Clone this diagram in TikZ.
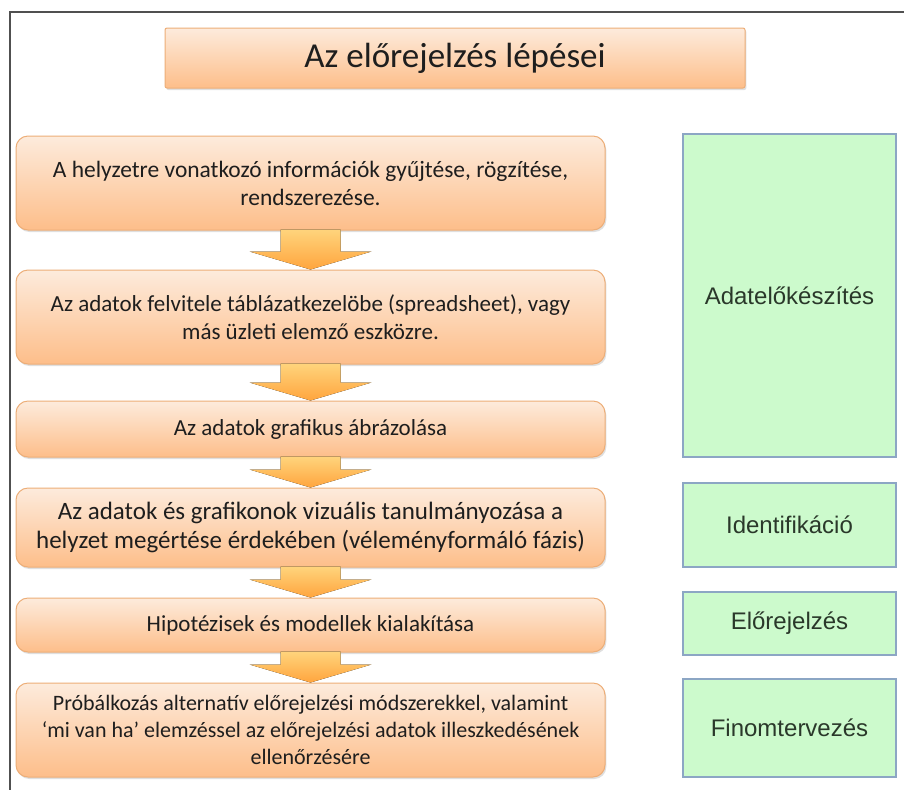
\documentclass[tikz,border=0pt]{standalone}
\usepackage{fontspec}
\setmainfont{Carlito}
\newfontfamily\sidefont{Liberation Sans}
\usetikzlibrary{calc,shadows}

\definecolor{stepTop}{HTML}{FDEBDC}
\definecolor{stepBot}{HTML}{FDBE8A}
\definecolor{stepLine}{HTML}{EDAE78}
\definecolor{stepText}{HTML}{1E1E1E}
\definecolor{arrowTop}{HTML}{FFD47C}
\definecolor{arrowBot}{HTML}{FFA53E}
\definecolor{phaseFill}{HTML}{CCFACC}
\definecolor{phaseLine}{HTML}{8CA6C4}
\definecolor{phaseText}{HTML}{2A382A}
\definecolor{frameLine}{HTML}{505050}

% down arrow between two consecutive steps
\newcommand\stepArrow[2]{%
  \fill[top color=arrowTop, bottom color=arrowBot]
    ($(#1.south)+(-30,-1)$) -- ($(#2.north)+(-30,-18)$) -- ($(#2.north)+(-61,-18)$)
    -- (#2.north) -- ($(#2.north)+(61,-18)$) -- ($(#2.north)+(30,-18)$)
    -- ($(#1.south)+(30,-1)$) -- cycle;}

\begin{document}
\begin{tikzpicture}[x=0.75pt,y=-0.75pt,
  stepbox/.style={draw=stepLine, line width=0.75pt, rounded corners=9pt,
    top color=stepTop, bottom color=stepBot, minimum width=441.75pt,
    align=center, inner sep=0pt, text=stepText,
    font=\fontsize{17.25}{21}\selectfont,
    drop shadow={shadow xshift=1pt, shadow yshift=-1.5pt, opacity=0.25}},
  titlebox/.style={draw=stepLine, line width=0.75pt, rounded corners=1.5pt,
    top color=stepTop, bottom color=stepBot, minimum width=435pt,
    minimum height=45pt, inner sep=0pt, text=stepText,
    font=\fontsize{26.25}{30}\selectfont,
    drop shadow={shadow xshift=1pt, shadow yshift=-1.5pt, opacity=0.25}},
  phasebox/.style={draw=phaseLine, line width=1.5pt, fill=phaseFill,
    minimum width=159.75pt, inner sep=0pt, text=phaseText,
    font=\sidefont\fontsize{18}{22}\selectfont}]

% page and frame
\fill[white] (0,0) rectangle (904,790);
\useasboundingbox (0,0) rectangle (904,790);
\draw[frameLine, line width=1.1pt] (904,12) -- (10,12) -- (10,790);

% title
\node[titlebox] (title) at (455,58) {Az előrejelzés lépései};

% steps
\node[stepbox, minimum height=70.5pt, font=\fontsize{17.6}{21}\selectfont] (s1) at (310.5,183)
  {A helyzetre vonatkozó információk gyűjtése, rögzítése,\\rendszerezése.};
\node[stepbox, minimum height=70.5pt] (s2) at (310.5,317)
  {Az adatok felvitele táblázatkezelöbe (spreadsheet), vagy\\más üzleti elemző eszközre.};
\node[stepbox, minimum height=42pt] (s3) at (310.5,429)
  {Az adatok grafikus ábrázolása};
\node[stepbox, minimum height=59.25pt, font=\fontsize{18.75}{22}\selectfont] (s4) at (310.5,527.5)
  {Az adatok és grafikonok vizuális tanulmányozása a\\helyzet megértése érdekében (véleményformáló fázis)};
\node[stepbox, minimum height=40.5pt] (s5) at (310.5,625)
  {Hipotézisek és modellek kialakítása};
\node[stepbox, minimum height=70.5pt, font=\fontsize{16.5}{20.25}\selectfont] (s6) at (310.5,730)
  {Próbálkozás alternatív előrejelzési módszerekkel, valamint\\‘mi van ha’ elemzéssel az előrejelzési adatok illeszkedésének\\ellenőrzésére};

% arrows
\stepArrow{s1}{s2}
\stepArrow{s2}{s3}
\stepArrow{s3}{s4}
\stepArrow{s4}{s5}
\stepArrow{s5}{s6}

% phases
\node[phasebox, minimum height=242.25pt] (p1) at (789.5,295.5) {Adatelőkészítés};
\node[phasebox, minimum height=63pt] (p2) at (789.5,525) {Identifikáció};
\node[phasebox, minimum height=47.25pt] (p3) at (789.5,623.5) {Előrejelzés};
\node[phasebox, minimum height=73.5pt] (p4) at (789.5,728) {Finomtervezés};
\end{tikzpicture}
\end{document}
